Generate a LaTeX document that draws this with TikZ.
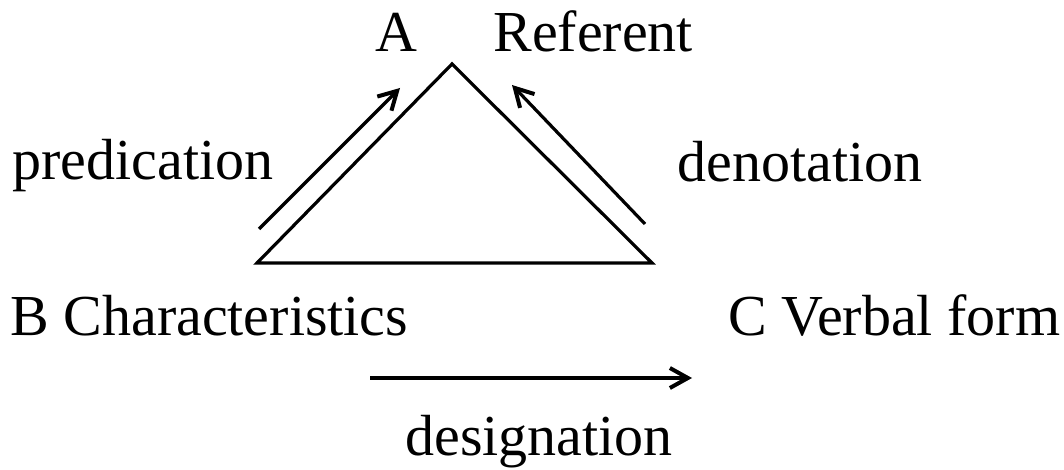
\documentclass[tikz,border=0pt]{standalone}
\usepackage{fontspec}
\setmainfont{Liberation Serif}
\usetikzlibrary{arrows.meta}
\tikzset{
  lbl/.style={font=\fontsize{29}{34}\selectfont, inner sep=0pt, anchor=base west},
  side/.style={line width=1.6pt},
  arr/.style={-{Straight Barb[length=9pt, width=10pt, line width=2pt]}, line width=1.6pt},
}
\begin{document}
\begin{tikzpicture}[x=0.5pt, y=-0.5pt]
  \useasboundingbox (0, 0) rectangle (1064, 470);
  % triangle corners
  \coordinate (top) at (452, 64);
  \coordinate (left) at (257, 263);
  \coordinate (right) at (652, 263);
  \draw[side, line join=miter] (top) -- (left) -- (right) -- cycle;
  % arrow ends
  \coordinate (predS) at (259, 229);
  \coordinate (predE) at (400, 88);
  \coordinate (denoS) at (645, 224);
  \coordinate (denoE) at (512, 85);
  \coordinate (desiS) at (370, 378);
  \coordinate (desiE) at (692, 378);
  \draw[arr] (predS) -- (predE);
  \draw[arr] (denoS) -- (denoE);
  \draw[arr] (desiS) -- (desiE);
  % labels
  \node[lbl] (nodeA) at (375, 52) {A};
  \node[lbl] (referent) at (493, 52) {Referent};
  \node[lbl] (predication) at (12, 180) {predication};
  \node[lbl] (denotation) at (677, 182) {denotation};
  \node[lbl] (charac) at (10, 335) {B Characteristics};
  \node[lbl] (verbal) at (728, 335) {C Verbal form};
  \node[lbl] (designation) at (405, 455) {designation};
\end{tikzpicture}
\end{document}
